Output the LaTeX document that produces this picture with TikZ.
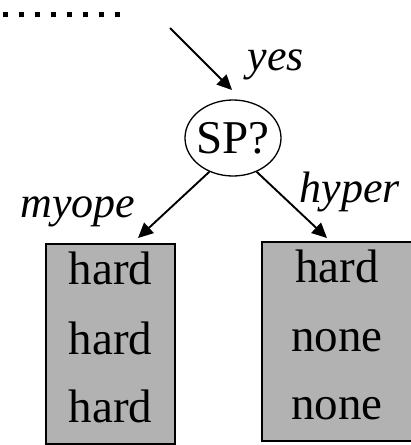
\documentclass[tikz,border=0pt]{standalone}
\usepackage{fontspec}
\setmainfont{Liberation Serif}
\usetikzlibrary{shapes.geometric,arrows.meta}
\begin{document}
\begin{tikzpicture}[x=1pt,y=-1pt,
  conn/.style={line width=1.9pt,-{Triangle[length=15pt,width=14pt]}},
  leafbox/.style={draw=black,line width=1.2pt,fill=black!30,inner sep=0pt},
  cell/.style={anchor=base,inner sep=0pt,font=\fontsize{47}{50}\selectfont},
  branch/.style={anchor=base,inner sep=0pt,font=\fontsize{44}{48}\selectfont\itshape},
  test/.style={draw=black,line width=1.3pt,ellipse,inner sep=0pt,
    minimum width=96pt,minimum height=76pt}]
\useasboundingbox (0,0) rectangle (411,445);
\clip (0,0) rectangle (411,445);

% dotted stub of the parent branch
\draw[line width=5.5pt,dash pattern=on 5.5pt off 10.5pt] (2.5,14.5) -- (125,14.5);

% test node
\node[test] (sp) at (233,138) {};
\node[cell] (sptext) at (233,153) {SP?};

% incoming branch
\coordinate (inStart) at (170,28);
\coordinate (inEnd) at (232,90);
\draw[conn] (inStart) -- (inEnd);
\node[branch] (yes) at (276,70) {yes};

% leaf boxes
\node[leafbox,minimum width=129pt,minimum height=200pt] (lbox) at (110.5,344) {};
\node[leafbox,minimum width=150pt,minimum height=199pt] (rbox) at (337,341.5) {};

% outgoing branches
\coordinate (ltip) at (138,238);
\coordinate (rtip) at (327,238);
\draw[conn] (sp.235) -- (ltip);
\draw[conn] (sp.305) -- (rtip);
\node[branch] (myope) at (78,217) {myope};
\node[branch] (hyper) at (350,202) {hyper};

% leaf contents
\node[cell] (l1) at (110.5,284) {hard};
\node[cell] (l2) at (110.5,354) {hard};
\node[cell] (l3) at (110.5,422) {hard};
\node[cell] (r1) at (337,282) {hard};
\node[cell] (r2) at (337,351) {none};
\node[cell] (r3) at (337,419) {none};
\end{tikzpicture}
\end{document}
